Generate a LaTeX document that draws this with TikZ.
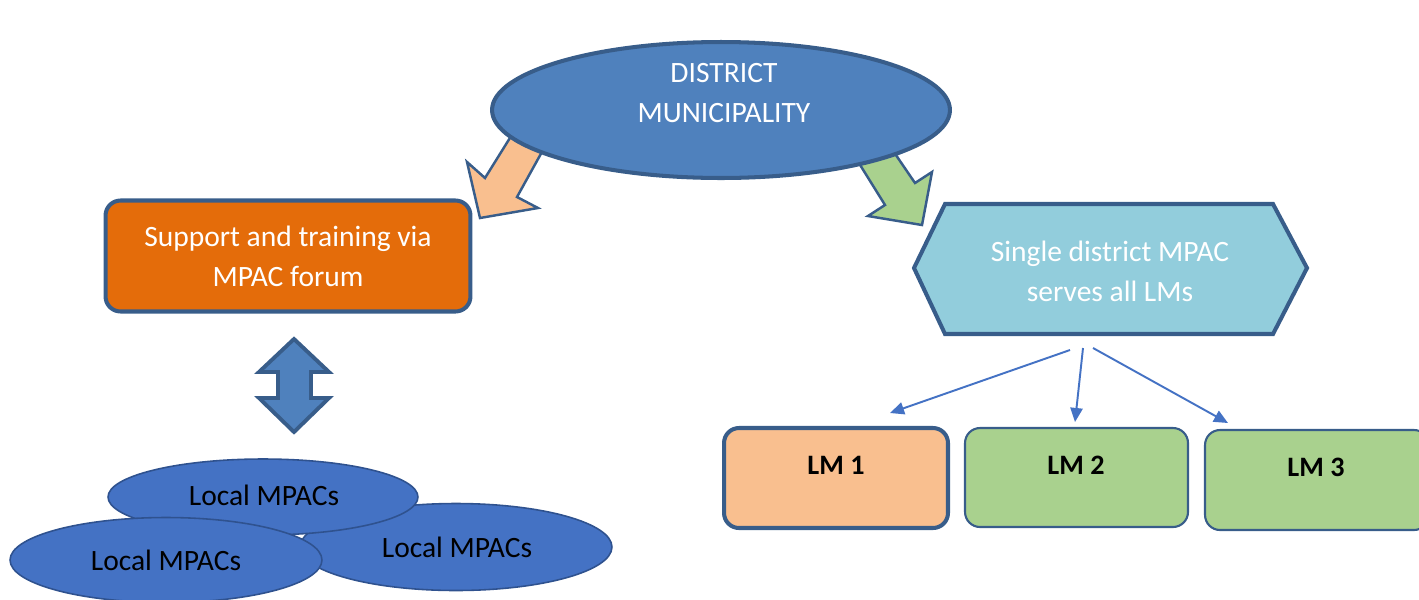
\documentclass[tikz,border=0pt]{standalone}
\usepackage{fontspec}
\setmainfont{Carlito}
\usetikzlibrary{shapes.geometric,arrows.meta}
\definecolor{bordblue}{HTML}{385D8A}
\definecolor{topfill}{HTML}{4F81BD}
\definecolor{orangefill}{HTML}{E46C0A}
\definecolor{lightorange}{HTML}{F9BF8F}
\definecolor{lightgreen}{HTML}{A9D18E}
\definecolor{hexfill}{HTML}{92CDDC}
\definecolor{localfill}{HTML}{4472C4}
\definecolor{localbord}{HTML}{2F528F}
\definecolor{connblue}{HTML}{4472C4}
\tikzset{
  bigtext/.style={font=\fontsize{16.8}{22.7}\selectfont, align=center},
  whitetext/.style={bigtext, text=white},
  blockarrow/.style={draw=bordblue, line width=1.4pt, line join=miter},
  roundbox/.style={rectangle, rounded corners=0.3cm, draw=bordblue, inner sep=0pt},
  localell/.style={ellipse, fill=localfill, draw=localbord, line width=0.9pt, inner sep=0pt,
     font=\fontsize{16.8}{20}\selectfont, text=black},
  lmtext/.style={font=\fontsize{16}{19}\selectfont\bfseries, text=black},
  conn/.style={draw=connblue, line width=1.1pt, -{Triangle[length=8pt,width=7pt]}}
}
\begin{document}
\begin{tikzpicture}[x=0.02cm,y=-0.02cm]
\useasboundingbox (0,0) rectangle (1419,599);
\clip (0,0) rectangle (1419,599);

% block arrows (behind the ellipse)
\draw[blockarrow, fill=lightorange] (513,133) -- (543,150) -- (517,197) -- (538,208) -- (480,218) -- (467,162) -- (485,178) -- cycle;
\draw[blockarrow, fill=lightgreen] (857,160) -- (885,139) -- (915,183) -- (932,172) -- (922,225) -- (868,216) -- (885,205) -- cycle;

% top ellipse
\node[ellipse, fill=topfill, draw=bordblue, line width=2.3pt, inner sep=0pt,
      minimum width=9.16cm, minimum height=2.72cm] (dm) at (721,110) {};
\node[whitetext] (dmtext) at (724,93) {DISTRICT\\MUNICIPALITY};

% orange box
\node[roundbox, fill=orangefill, line width=2.3pt, minimum width=7.3cm, minimum height=2.22cm,
      whitetext] (support) at (288,256) {Support and training via\\MPAC forum};

% hexagon
\fill[hexfill, draw=bordblue, line width=2.3pt, line join=miter]
  (914,268) -- (945,204) -- (1273,204) -- (1307,268) -- (1273,334) -- (945,334) -- cycle;
\node[whitetext] (hex) at (1110,271) {Single district MPAC\\serves all LMs};

% double arrow
\draw[blockarrow, fill=topfill, line width=2.2pt]
  (294,339) -- (329,372) -- (311,372) -- (311,398) -- (329,398) -- (294,432)
  -- (259,398) -- (278,398) -- (278,372) -- (259,372) -- cycle;

% local MPAC ellipses
\node[localell, minimum width=6.24cm, minimum height=1.74cm] (lr) at (456,547) {};
\node at (457,547) [font=\fontsize{16.8}{20}\selectfont] (lrt) {Local MPACs};
\node[localell, minimum width=6.2cm, minimum height=1.52cm] (lt) at (263,497) {};
\node at (264,495) [font=\fontsize{16.8}{20}\selectfont] (ltt) {Local MPACs};
\node[localell, minimum width=6.24cm, minimum height=1.7cm] (ll) at (166,560) {};
\node at (166,560) [font=\fontsize{16.8}{20}\selectfont] (llt) {Local MPACs};

% LM boxes
\node[roundbox, fill=lightorange, line width=2.3pt, minimum width=4.48cm, minimum height=2cm] (lm1) at (836,478) {};
\node[roundbox, fill=lightgreen, line width=1.2pt, minimum width=4.46cm, minimum height=1.98cm] (lm2) at (1076.5,477.5) {};
\node[roundbox, fill=lightgreen, line width=1.2pt, minimum width=4.48cm, minimum height=2cm] (lm3) at (1317,480) {};
\node[lmtext] (lm1t) at (836,465) {LM 1};
\node[lmtext] (lm2t) at (1076,465) {LM 2};
\node[lmtext] (lm3t) at (1316,467) {LM 3};

% connectors
\coordinate (s1) at (1070,350);
\coordinate (s2) at (1083,348);
\coordinate (s3) at (1093,348);
\coordinate (e1) at (890,413);
\coordinate (e2) at (1075,422);
\coordinate (e3) at (1228,423);
\draw[conn] (s1) -- (e1);
\draw[conn] (s2) -- (e2);
\draw[conn] (s3) -- (e3);
\end{tikzpicture}
\end{document}
